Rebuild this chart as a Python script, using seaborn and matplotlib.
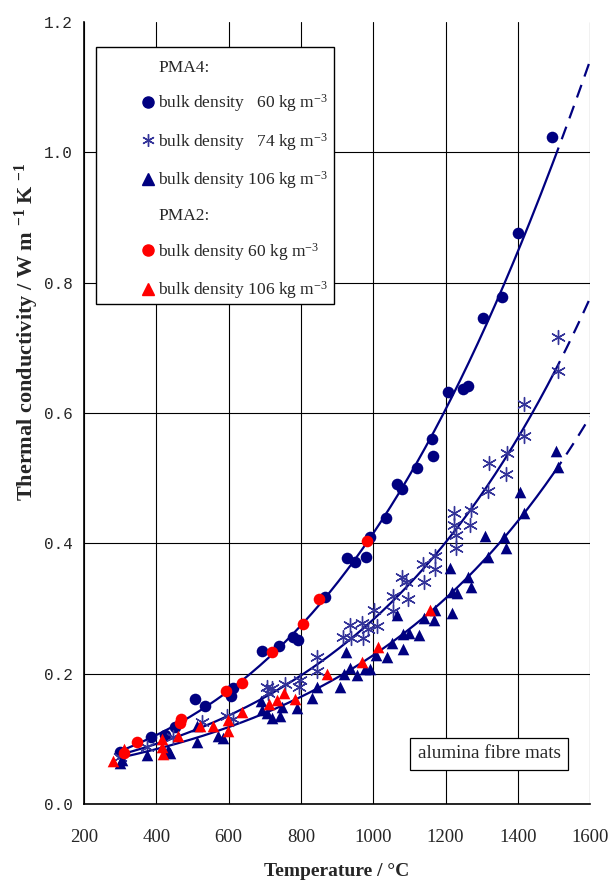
"""Thermal conductivity of alumina fibre mats vs temperature."""
import numpy as np
import pandas as pd

import matplotlib

matplotlib.use("Agg")
import matplotlib.pyplot as plt
from matplotlib.lines import Line2D
from matplotlib.patches import Rectangle
import seaborn as sns

# PMA4, bulk density 60 kg m-3 (navy circles)
pma4_60_t = [300, 385, 424, 452, 507, 535, 607, 612, 692, 740, 778, 792, 867, 928,
             950, 980, 991, 1036, 1066, 1080, 1121, 1163, 1166, 1207, 1249, 1263,
             1304, 1357, 1401, 1495]
pma4_60_k = [0.080, 0.103, 0.106, 0.118, 0.161, 0.150, 0.166, 0.178, 0.235, 0.243,
             0.256, 0.252, 0.318, 0.378, 0.371, 0.379, 0.410, 0.439, 0.491, 0.483,
             0.516, 0.560, 0.534, 0.632, 0.637, 0.641, 0.746, 0.778, 0.876, 1.023]

# PMA4, bulk density 74 kg m-3 (stars)
pma4_74_t = [300, 375, 447, 527, 596, 612, 706, 709, 720, 756, 795, 798, 845, 845,
             917, 936, 939, 969, 972, 986, 1002, 1011, 1055, 1055, 1080, 1091, 1097,
             1138, 1141, 1171, 1171, 1224, 1224, 1229, 1229, 1268, 1271, 1318, 1321,
             1368, 1371, 1418, 1418, 1512, 1512]
pma4_74_k = [0.072, 0.087, 0.103, 0.126, 0.135, 0.130, 0.180, 0.170, 0.178, 0.184,
             0.180, 0.190, 0.225, 0.204, 0.256, 0.275, 0.255, 0.278, 0.255, 0.268,
             0.298, 0.273, 0.320, 0.296, 0.349, 0.340, 0.314, 0.369, 0.341, 0.381,
             0.361, 0.446, 0.428, 0.413, 0.393, 0.428, 0.451, 0.480, 0.524, 0.506,
             0.539, 0.614, 0.565, 0.717, 0.665]

# PMA4, bulk density 106 kg m-3 (navy triangles)
pma4_106_t = [300, 305, 375, 432, 438, 513, 513, 571, 585, 690, 692, 706, 720, 742,
              748, 789, 831, 845, 908, 919, 925, 936, 955, 977, 991, 1008, 1038,
              1052, 1066, 1083, 1083, 1099, 1127, 1141, 1168, 1171, 1213, 1218, 1218,
              1232, 1262, 1271, 1310, 1318, 1362, 1368, 1407, 1418, 1506, 1512]
pma4_106_k = [0.063, 0.068, 0.075, 0.083, 0.078, 0.095, 0.120, 0.104, 0.101, 0.158,
              0.144, 0.139, 0.132, 0.135, 0.149, 0.148, 0.162, 0.179, 0.180, 0.199,
              0.234, 0.209, 0.198, 0.207, 0.207, 0.229, 0.226, 0.247, 0.290, 0.261,
              0.238, 0.262, 0.259, 0.285, 0.282, 0.298, 0.362, 0.325, 0.293, 0.324,
              0.348, 0.333, 0.411, 0.379, 0.410, 0.393, 0.479, 0.447, 0.542, 0.517]

# PMA2, bulk density 60 kg m-3 (red circles)
pma2_60_t = [311, 347, 466, 468, 593, 636, 720, 806, 850, 983]
pma2_60_k = [0.078, 0.095, 0.124, 0.130, 0.174, 0.186, 0.233, 0.277, 0.314, 0.404]

# PMA2, bulk density 106 kg m-3 (red triangles)
pma2_106_t = [280, 311, 416, 416, 419, 460, 521, 557, 598, 598, 636, 712, 734, 753,
              784, 873, 969, 1013, 1157]
pma2_106_k = [0.066, 0.084, 0.100, 0.087, 0.077, 0.104, 0.120, 0.119, 0.129, 0.112,
              0.141, 0.153, 0.160, 0.170, 0.161, 0.200, 0.218, 0.241, 0.298]

legend_labels = [
    "bulk density   60 kg m$^{-3}$",
    "bulk density   74 kg m$^{-3}$",
    "bulk density 106 kg m$^{-3}$",
    "bulk density 60 kg m$^{-3}$",
    "bulk density 106 kg m$^{-3}$",
]

NAVY = "#000080"
STAR = "#333399"
RED = "#ff0000"
STAR_MARKER = (6, 2, 0)


def fit_curve(ax, t, k):
    """Fit log(k) with a quadratic, solid up to 1500 and dashed beyond."""
    coef = np.polyfit(t, np.log(k), 2)
    t_solid = np.linspace(300, 1500, 200)
    t_dash = np.linspace(1500, 1600, 40)
    fit = pd.DataFrame({"t": t_solid, "k": np.exp(np.polyval(coef, t_solid))})
    ext = pd.DataFrame({"t": t_dash, "k": np.exp(np.polyval(coef, t_dash))})
    sns.lineplot(data=fit, x="t", y="k", ax=ax, color=NAVY, lw=1.6, zorder=3)
    ax.plot(ext["t"], ext["k"], color=NAVY, lw=1.6, ls=(0, (6, 4)), zorder=3)


def main():
    """Run."""
    sns.set_style("white")
    plt.rcParams["font.family"] = ["Liberation Serif", "DejaVu Serif"]
    plt.rcParams["mathtext.default"] = "regular"

    fig = plt.figure(figsize=(6.14, 8.82), dpi=100)
    ax = fig.add_axes([0.137, 0.0884, 0.824, 0.8866])

    fit_curve(ax, pma4_60_t + pma2_60_t, pma4_60_k + pma2_60_k)
    fit_curve(ax, pma4_74_t, pma4_74_k)
    fit_curve(ax, pma4_106_t + pma2_106_t, pma4_106_k + pma2_106_k)

    sns.scatterplot(x=pma4_60_t, y=pma4_60_k, ax=ax, marker="o", s=70,
                    color=NAVY, edgecolor=NAVY, linewidth=0, zorder=4)
    sns.scatterplot(x=pma4_74_t, y=pma4_74_k, ax=ax, marker=STAR_MARKER, s=100,
                    color=STAR, linewidth=1.0, zorder=4)
    sns.scatterplot(x=pma4_106_t, y=pma4_106_k, ax=ax, marker="^", s=70,
                    color=NAVY, edgecolor=NAVY, linewidth=0, zorder=4)
    sns.scatterplot(x=pma2_60_t, y=pma2_60_k, ax=ax, marker="o", s=70,
                    color=RED, edgecolor=RED, linewidth=0, zorder=5)
    sns.scatterplot(x=pma2_106_t, y=pma2_106_k, ax=ax, marker="^", s=70,
                    color=RED, edgecolor=RED, linewidth=0, zorder=5)

    ax.set_xlim(200, 1600)
    ax.set_ylim(0, 1.2)
    ax.set_xticks(np.arange(200, 1601, 200))
    ax.set_yticks(np.arange(0, 1.21, 0.2))
    ax.set_yticklabels([f"{v:.1f}" for v in np.arange(0, 1.21, 0.2)],
                       family="Liberation Mono", fontsize=11.5)
    ax.tick_params(axis="x", labelsize=13.5, direction="out", length=5,
                   width=0.8, color="black", pad=13)
    ax.tick_params(axis="y", direction="out", length=5, width=0.8,
                   color="black", pad=3)
    ax.grid(True, color="black", lw=0.8)
    ax.yaxis.get_gridlines()[-1].set_visible(False)
    for side in ["left", "bottom"]:
        ax.spines[side].set_color("black")
        ax.spines[side].set_linewidth(1.2)
    for side in ["top", "right"]:
        ax.spines[side].set_visible(False)

    ax.set_xlabel("Temperature / °C", fontsize=14, fontweight="bold", labelpad=12)
    ax.set_ylabel("Thermal conductivity / W m $^{-1}$ K $^{-1}$", fontsize=16,
                  fontweight="bold")
    ax.yaxis.set_label_coords(-0.086, 0.604)

    # legend box
    box = Rectangle((0.024, 0.639), 0.470, 0.329, transform=ax.transAxes,
                    facecolor="white", edgecolor="black", lw=1.0, zorder=6)
    ax.add_patch(box)
    blank = Line2D([], [], ls="none", marker=None)
    handles = [
        blank,
        Line2D([], [], ls="none", marker="o", color=NAVY, ms=8),
        Line2D([], [], ls="none", marker=STAR_MARKER, color=STAR, ms=9, mew=1.0),
        Line2D([], [], ls="none", marker="^", color=NAVY, ms=8),
        blank,
        Line2D([], [], ls="none", marker="o", color=RED, ms=8),
        Line2D([], [], ls="none", marker="^", color=RED, ms=8),
    ]
    labels = ["PMA4:"] + legend_labels[:3] + ["PMA2:"] + legend_labels[3:]
    leg = ax.legend(handles, labels, loc="upper left",
                    bbox_to_anchor=(0.112, 0.952), frameon=False, fontsize=12.5,
                    handlelength=0.8, handletextpad=0.2, labelspacing=0.96,
                    borderaxespad=0, borderpad=0)
    leg.set_zorder(7)

    ax.text(1321, 0.077, "alumina fibre mats", fontsize=13.8, ha="center",
            va="center", zorder=6,
            bbox=dict(boxstyle="square,pad=0.4", facecolor="white",
                      edgecolor="black", lw=0.9))

    fig.savefig("out.png", dpi=100)


if __name__ == "__main__":
    main()
